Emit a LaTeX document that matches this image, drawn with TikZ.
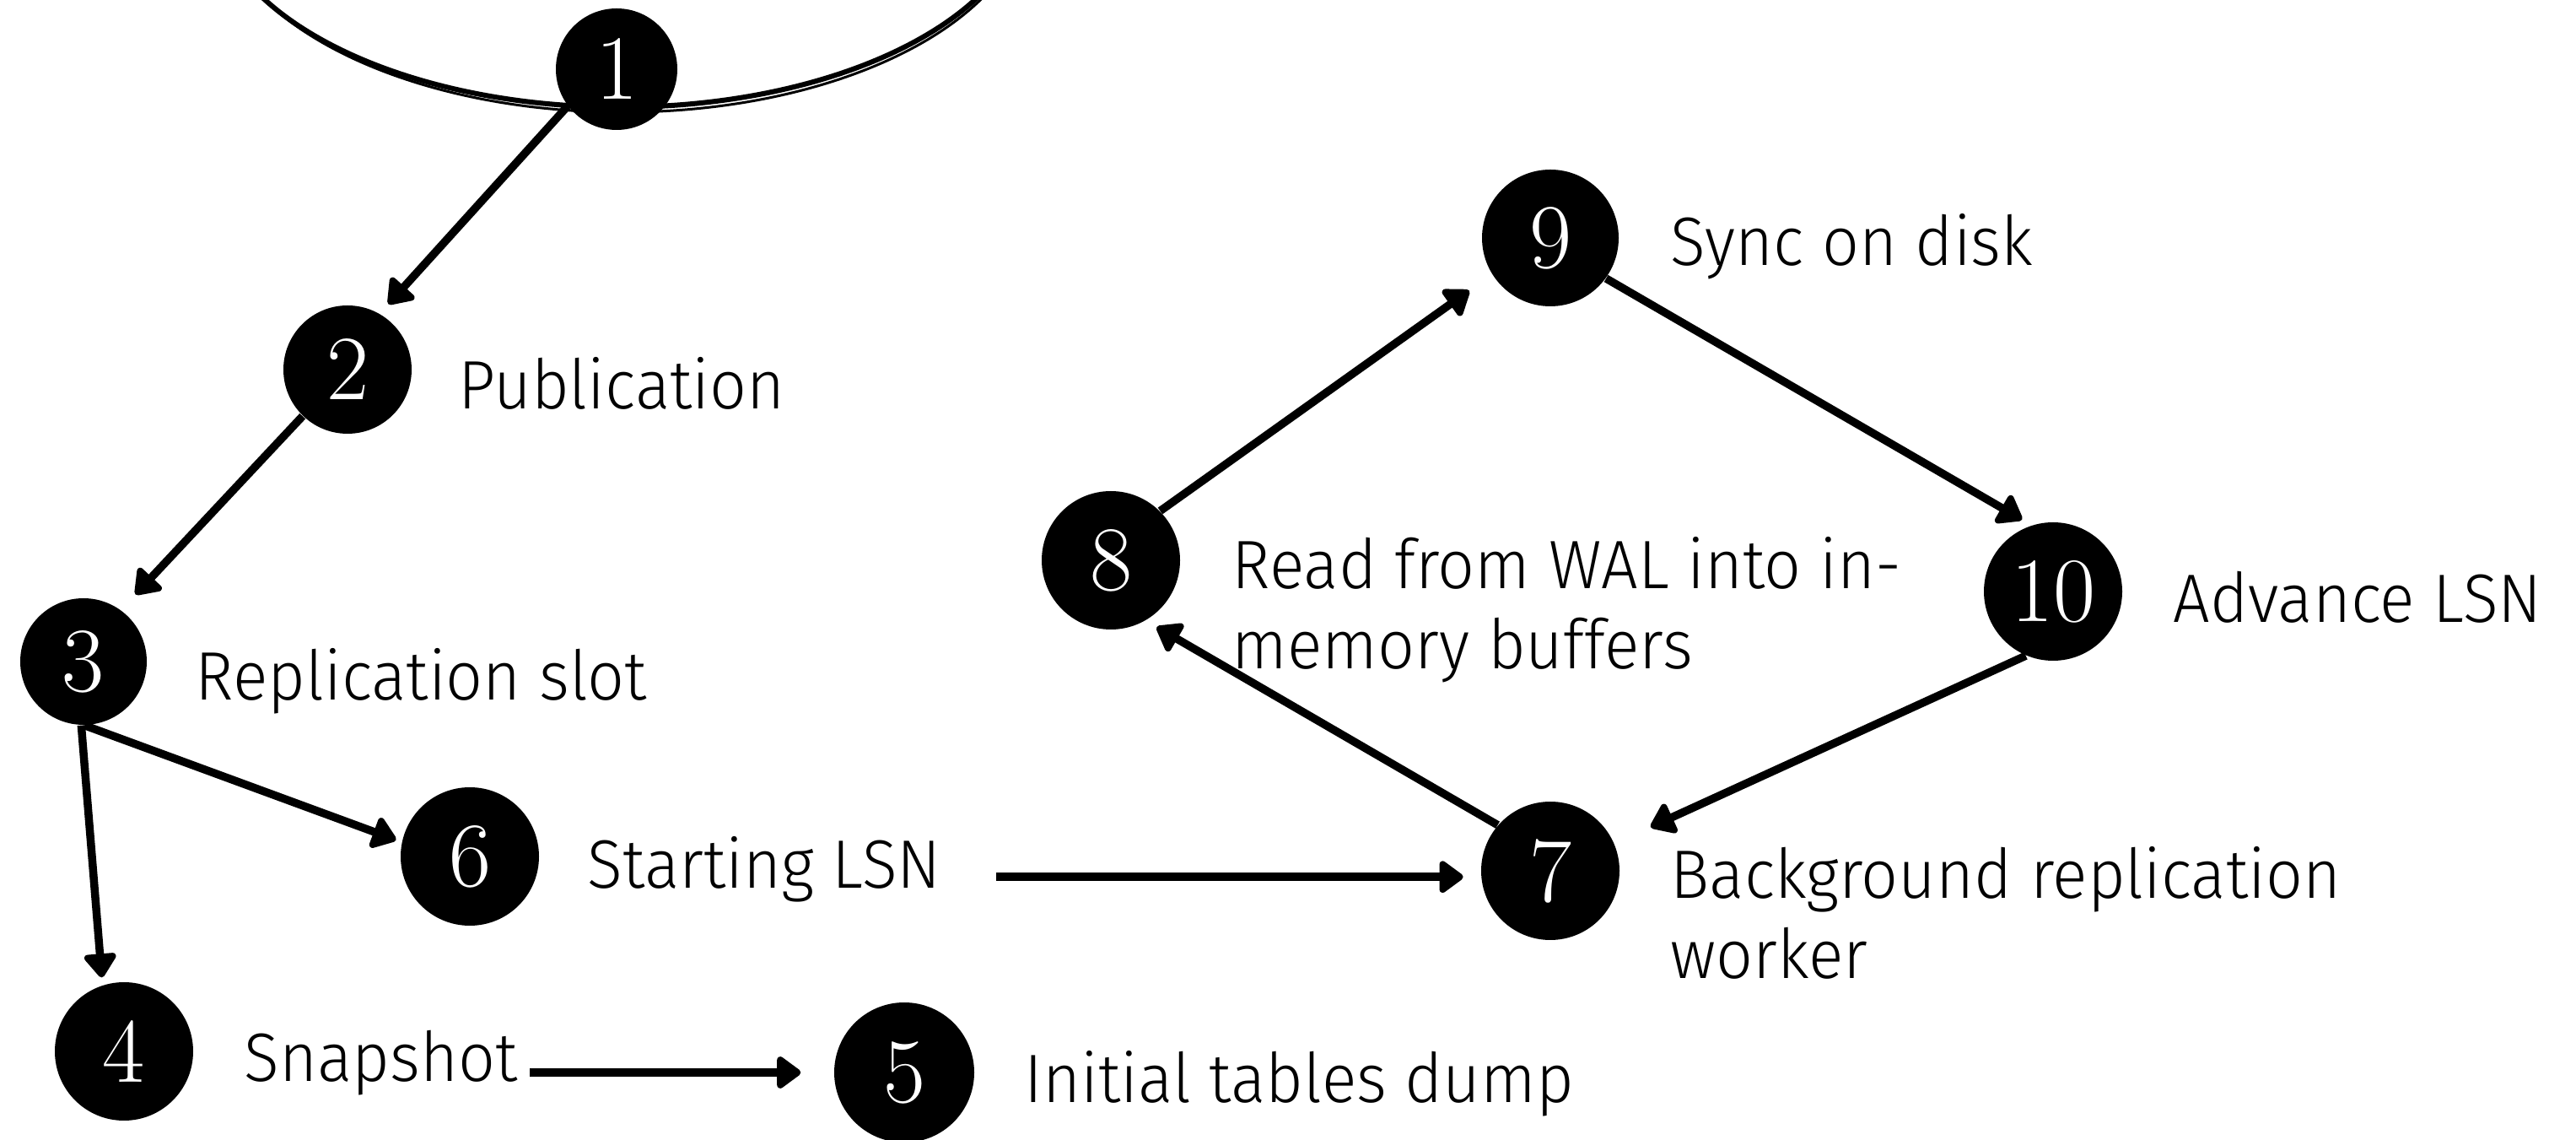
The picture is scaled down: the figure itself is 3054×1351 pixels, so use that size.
\documentclass[tikz,border=0pt]{standalone}
\usepackage{fontspec}
\newfontfamily\lblfont{Fira Sans Light}[FakeStretch=0.95]
\newfontfamily\numfont{Latin Modern Roman}
\usetikzlibrary{arrows.meta,calc}
\begin{document}
\begin{tikzpicture}[x=0.1mm,y=-0.1mm,
  num/.style={circle,fill=black,inner sep=0pt,text=white,font=\numfont\fontsize{31}{31}\selectfont},
  lbl/.style={anchor=base west,inner sep=0pt,align=left,font=\lblfont\fontsize{23.1}{27.3}\selectfont},
  arr/.style={line width=0.95mm,-{Triangle[width=4.3mm,length=3.1mm,round]}},
  sketch/.style={line width=0.6mm}]
\useasboundingbox (0,0) rectangle (3054,1351);
% top sketchy ellipse
\draw[sketch] (735,-126) ellipse [x radius=48.5mm, y radius=25.3mm];
\draw[line width=0.3mm] (738,-122) ellipse [x radius=48.3mm, y radius=25.5mm];
% numbered circles
\node[num,minimum size=14.4mm] (n1) at (731,82) {1};
\node[num,minimum size=15.2mm] (n2) at (412,438) {2};
\node[num,minimum size=15.0mm] (n3) at (99,784) {3};
\node[num,minimum size=16.4mm] (n4) at (147,1246) {4};
\node[num,minimum size=16.6mm] (n5) at (1072,1271) {5};
\node[num,minimum size=16.4mm] (n6) at (557,1015) {6};
\node[num,minimum size=16.4mm] (n7) at (1838,1032) {7};
\node[num,minimum size=16.4mm] (n8) at (1317,664) {8};
\node[num,minimum size=16.2mm] (n9) at (1838,282) {9};
\node[num,minimum size=16.4mm] (n10) at (2434,701) {10};
% labels
\node[lbl] (l2) at (543,485) {Publication};
\node[lbl] (l3) at (231,830) {Replication slot};
\node[lbl] (l6) at (696,1053) {Starting LSN};
\node[lbl] (l4) at (289,1281) {Snapshot};
\node[lbl] (l5) at (1214,1307) {Initial tables dump};
\node[lbl] (l9) at (1980,315) {Sync on disk};
\node[lbl] (l8) at (1460,793) {Read from WAL into in-\\memory buffers};
\node[lbl] (l10) at (2576,738) {Advance LSN};
\node[lbl] (l7) at (1980,1160) {Background replication\\worker};
% connectors
\draw[arr,shorten >=1.5mm] (n1.217) -- (n2.60);
\draw[arr,shorten >=2.5mm] (n2.226) -- (n3.54);
\draw[arr,shorten >=0.9mm] (n3.268) -- (n4.108);
\draw[arr,shorten >=0.7mm] (n3.271) -- (n6.168);
\draw[arr,shorten <=1.4mm,shorten >=3.9mm] (l4.east |- n5.west) -- (n5.west);
\draw[arr,shorten <=6.5mm,shorten >=2.1mm] (l6.east |- n7.185) -- (n7.185);
\draw[arr,shorten >=3.3mm] (n8.45) -- (n9.212);
\draw[arr,shorten >=1.3mm] (n9.324) -- (n10.108);
\draw[arr,shorten >=4.7mm] (n10.247) -- (n7.23);
\draw[arr,shorten >=1.5mm] (n7.139) -- (n8.300);
\end{tikzpicture}
\end{document}
